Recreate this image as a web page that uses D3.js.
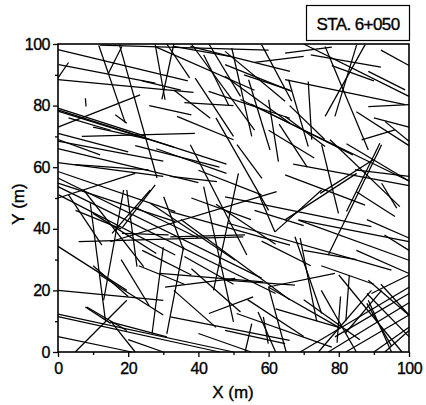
<!DOCTYPE html>
<html>
<head>
<meta charset="utf-8">
<script src="https://cdn.jsdelivr.net/npm/d3@7"></script>
<style>
  body { margin: 0; background: #fff; }
  text { font-family: "Liberation Sans", Arial, sans-serif; fill: #000; stroke: #000; stroke-width: 0.35px; }
</style>
</head>
<body>
<div id="trace_map"></div>
<script>
// fracture traces, [x1, y1, x2, y2] in metres
const tracesUpper = [
  [0,98.2,37,88], [0.2,93.3,27.7,87.3], [0,88.4,38.6,84.3], [11.6,99.6,19.2,74.3],
  [17.5,99.8,28.2,56.5], [14.4,90.6,18.2,99.2], [7.8,82.4,8,79.7], [0,73,23.4,83.5],
  [0,79.2,25,70], [0,78.2,33,66.5], [27.7,99.8,30.5,81.9], [29.6,82,33,100],
  [16.3,77,19.6,74.3], [6.8,70,39,71], [31,100,37.5,89], [32.9,99.2,49,96],
  [37.7,99.2,66.1,91.1], [12,99.6,60,98], [56,94,70,96], [72,96.5,92,92.5],
  [41.5,96.5,48.6,80.2], [49.5,98.7,55.2,70], [39.1,88.9,50,70], [47.6,89.5,66.1,74.3],
  [42.9,84.6,66.1,75.9], [54.3,88.4,60.4,65.6], [33,85.1,43.4,75.9], [33.9,76.5,50,68.9],
  [28,99,56,85], [38,100,56,72], [47.6,93.3,66.6,84.6], [47.6,97.6,64.7,81.4],
  [58,99.8,66.6,81.4], [64.7,88.4,98.9,80.3], [88.4,91.1,98.9,85.1], [76.1,76.5,87.5,99.8],
  [78.9,76.5,85.1,99.8], [71.3,87.8,72.3,68.9], [65.7,88.4,71.3,66.7], [76.1,99.2,88.4,65.6],
  [88.4,79.7,100,80.3], [93.2,74.8,100,68.4], [64.7,76.5,76.1,66.7], [86.5,68.9,96,72.1],
  [52,82,100,55.5], [55,80.5,84,64], [70,100,100,83], [64.7,97,78,99],
  [60,81.9,62.8,61.8], [0,89,3,94], [24,88,35,85], [3,76,15,72],
  [0,71,20,65], [0,69,12,64], [10,73,26,69], [26,80,38,77],
  [22,67,46,60], [28,66,48,58], [36,81,50,80], [43,100,52,83],
  [53,90,66,85], [60,72,73,63], [63,74,71,60], [66,80,76,69],
  [78,93,90,88], [92,98,100,93], [85,78,100,67], [90,76,100,73]
];

const tracesMiddle = [
  [0,78.6,48,61], [0,66,40,55], [4.9,60.8,25.8,59.1], [0,58.6,33.4,45.6],
  [0,54.8,33.4,42.3], [0.2,51,33.4,31.5], [0,50,22,58], [18.2,40.2,27.7,54.3],
  [5.9,35.8,52.8,37.4], [18.2,38.5,31.5,38], [3,51,12.5,34.7], [0,61.5,30,57],
  [0,56.5,58,24], [32,57,45.3,55.3], [51,67.3,58.1,56.4], [51.4,58,44.3,20],
  [37.7,67.3,53.8,31.5], [14.9,35.8,62.3,52.1], [32,45.6,66.1,34.7], [32,37.4,53.3,38],
  [84.6,59.1,100,57], [64.7,57.5,87.5,47.7], [75.1,67.3,79.9,45], [64.7,42.9,85.1,58],
  [77,31.5,92.2,67.3], [92.2,54.8,96.5,46.7], [68.5,42.9,100,35.8], [61.8,39,75.1,52.6],
  [57.1,51.5,61.8,39], [68.5,42.8,100,29.8], [67.5,37.4,75.1,12.5], [45,76,60,46],
  [0,68.5,30,62], [9.2,48.3,13.5,10.3], [41.5,53.7,50,9.8], [74.7,51.5,89.8,62.4],
  [82.2,45.6,91.7,67.8], [77.5,68.9,97.4,47.2], [67,61,100,54], [82.2,67.6,100,55.5],
  [85,33,100,25.5], [26.3,48.3,50.5,29.8], [7.3,52.6,24.4,27.7], [18.7,52.6,13,16.8],
  [30.1,50.4,35.8,33.1], [15.4,38.5,26.3,52.6], [19.6,52.6,22.5,27.7], [47.6,50.4,89.3,40.7],
  [48.5,41.8,95,26.6], [5,46,18,40], [10,45,28,32], [22,47,40,37],
  [38,50,55,43], [40,59,58,51], [45,48,62,35], [56,46,70,41],
  [58,36,72,28], [70,33,85,30], [75,28,90,22], [88,43,100,37],
  [93,38,100,33], [85,52,96,44], [24,33,38,25], [36,31,50,22]
];

const tracesLower = [
  [0,34.3,19.6,20], [31,5.9,35.8,34.2], [0,20,30,16.8], [0,12.3,50,0],
  [0,11.5,46,0], [0,5,21,0], [4.9,0,19.6,16.8], [29,25.5,58.5,22.8],
  [47.6,23.3,67.5,21.7], [43,12.5,55.6,17.9], [53.3,0,55.2,9.2], [58.5,11.4,59.9,2.7],
  [60,21,65,0], [69,0,100,21], [78.9,4.9,100,19], [75,20,85,0],
  [88,19,100,5], [80.5,18,79.5,3], [83,25,82,10], [88,15.8,95,2],
  [30,34,26.8,6], [69,37,73.7,10], [0,53.7,62,19], [35,43,66,17],
  [32,11.4,66,3.8], [8.2,14.6,19.6,7], [14.9,9.8,31,4.9], [30.5,21.1,50.5,23.9],
  [59.9,21.1,78.9,25.5], [88.4,23.3,100,11.9], [89.3,19,100,25], [74.2,0,89.3,20],
  [81.8,6,92.2,20], [88.4,16.8,95,0], [47.6,7,64.7,2.7], [50.9,12.5,78,1.6],
  [93.1,0,100,7], [60,21,80,8], [77,0,100,16], [82,0,100,12],
  [90,0,100,8], [80,25,98,0], [92,22,100,12], [70,17,86,4],
  [10,28,20,18], [18,30,26,15], [7.8,14.6,15,9.3], [15,10,22,0],
  [20,4,30,0], [12,25,30,12], [33,20,45,8], [38,27,52,13],
  [54,17,70,5], [62,14,80,8], [23,28,36,22], [40,6,55,0],
  [57,13,62,0]
];

const xTicks = [0, 20, 40, 60, 80, 100];
const yTicks = [0, 20, 40, 60, 80, 100];
const minorTicks = [10, 30, 50, 70, 90];
const stationLabel = "STA. 6+050";

// set the dimensions and margins of the graph
const margin = {top: 44, right: 17, bottom: 53, left: 58},
    width = 426 - margin.left - margin.right,
    height = 405 - margin.top - margin.bottom;

const root = d3.select("#trace_map")
  .append("svg")
    .attr("width", 426)
    .attr("height", 405);

const svg = root.append("g")
    .attr("transform", `translate(${margin.left},${margin.top})`);

const x = d3.scaleLinear().domain([0, 100]).range([0, width]);
const y = d3.scaleLinear().domain([0, 100]).range([height, 0]);

// traces
const traces = tracesUpper.concat(tracesMiddle, tracesLower);
svg.append("g")
  .selectAll("line")
  .data(traces)
  .join("line")
    .attr("x1", d => x(d[0]))
    .attr("y1", d => y(d[1]))
    .attr("x2", d => x(d[2]))
    .attr("y2", d => y(d[3]))
    .attr("stroke", "#000")
    .attr("stroke-width", 1.25);

// frame
svg.append("rect")
  .attr("width", width)
  .attr("height", height)
  .attr("fill", "none")
  .attr("stroke", "#000")
  .attr("stroke-width", 1.6);

// axes
svg.append("g")
  .attr("transform", `translate(0,${height})`)
  .call(d3.axisBottom(x).tickValues(xTicks).tickSize(5).tickPadding(6));
svg.append("g")
  .attr("transform", `translate(0,${height})`)
  .call(d3.axisBottom(x).tickValues(minorTicks).tickSize(3).tickFormat(""));
svg.append("g")
  .call(d3.axisLeft(y).tickValues(yTicks).tickSize(5).tickPadding(3));
svg.append("g")
  .call(d3.axisLeft(y).tickValues(minorTicks).tickSize(3).tickFormat(""));

svg.selectAll(".domain").remove();
svg.selectAll(".tick line").attr("stroke", "#000").attr("stroke-width", 1.3);
svg.selectAll(".tick text")
  .attr("font-family", "Liberation Sans, Arial, sans-serif")
  .attr("font-size", 16)
  .attr("letter-spacing", -0.5)
  .attr("fill", "#000");

// axis titles
root.append("text")
  .attr("x", 233)
  .attr("y", 398)
  .attr("text-anchor", "middle")
  .attr("font-size", 17)
  .text("X (m)");

root.append("text")
  .attr("transform", "translate(24,204) rotate(-90)")
  .attr("text-anchor", "middle")
  .attr("font-size", 17)
  .text("Y (m)");

// station box
root.append("rect")
  .attr("x", 306.5)
  .attr("y", 5.5)
  .attr("width", 103)
  .attr("height", 35)
  .attr("fill", "#fff")
  .attr("stroke", "#000")
  .attr("stroke-width", 1.2);

root.append("text")
  .attr("x", 358)
  .attr("y", 29.5)
  .attr("text-anchor", "middle")
  .attr("font-size", 17)
  .attr("letter-spacing", -0.6)
  .text(stationLabel);
</script>
</body>
</html>
